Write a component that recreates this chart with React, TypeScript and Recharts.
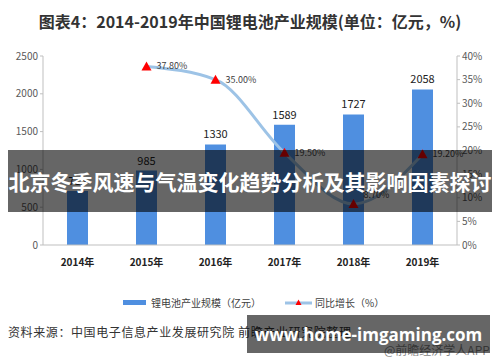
import {
  ComposedChart,
  Bar,
  Line,
  XAxis,
  YAxis,
  LabelList,
  Legend,
} from 'recharts';

const years = ['2014年', '2015年', '2016年', '2017年', '2018年', '2019年'];
const scale = [715, 985, 1330, 1589, 1727, 2058];
const growth = [null, 37.8, 35.0, 19.5, 8.7, 19.2];
const leftTicks = [0, 500, 1000, 1500, 2000, 2500];
const rightTicks = [0, 5, 10, 15, 20, 25, 30, 35, 40];

const data = years.map((year, i) => ({
  year,
  scale: scale[i],
  growth: growth[i],
}));

const FONT = '"Noto Sans CJK SC", "Noto Sans", sans-serif';
const BAR = '#4f8fe0';
const LINE = '#9dc3e6';

const Triangle = (props: any) => {
  const { cx, cy, value } = props;
  if (value == null || cx == null) return null;
  return (
    <path
      d={`M${cx},${cy - 5} L${cx + 5},${cy + 4} L${cx - 5},${cy + 4} Z`}
      fill="#ff0000"
    />
  );
};

const GrowthLabel = (props: any) => {
  const { x, y, value } = props;
  if (value == null) return null;
  const dy = value < 10 ? -9 : 0;
  return (
    <text
      x={x + 10}
      y={y + dy}
      dy={3}
      fontSize={9}
      fill="#404040"
      fontFamily={FONT}
    >
      {value.toFixed(2)}%
    </text>
  );
};

const LegendContent = () => (
  <div
    style={{
      display: 'flex',
      justifyContent: 'flex-start',
      alignItems: 'center',
      fontSize: 10,
      color: '#404040',
      fontFamily: FONT,
      paddingLeft: 123,
    }}
  >
    <span style={{ width: 23, height: 5, background: BAR, display: 'inline-block' }} />
    <span style={{ marginLeft: 5 }}>锂电池产业规模（亿元）</span>
    <svg width={27} height={10} style={{ marginLeft: 24 }}>
      <line x1={0} y1={5} x2={27} y2={5} stroke={LINE} strokeWidth={3} />
      <path d="M13.5,1.5 L16.5,7 L10.5,7 Z" fill="#ff0000" />
    </svg>
    <span style={{ marginLeft: 3 }}>同比增长（%）</span>
  </div>
);

export default function App() {
  return (
    <div
      style={{
        position: 'absolute',
        left: 0,
        top: 0,
        width: 500,
        height: 362,
        background: '#fff',
        fontFamily: FONT,
        overflow: 'hidden',
      }}
    >
      <div
        style={{
          position: 'absolute',
          top: 9,
          width: 500,
          textAlign: 'center',
          fontSize: 16,
          fontWeight: 'bold',
          color: '#333',
        }}
      >
        图表4：2014-2019年中国锂电池产业规模(单位：亿元，%)
      </div>

      <ComposedChart
        width={500}
        height={362}
        data={data}
        margin={{ top: 56, right: 0, bottom: 72, left: 0 }}
        barSize={21}
      >
        <XAxis
          dataKey="year"
          height={30}
          axisLine={{ stroke: '#bfbfbf' }}
          tickLine={false}
          tick={{ fontSize: 10, fontWeight: 'bold', fill: '#222', fontFamily: FONT }}
          tickMargin={8}
        />
        <YAxis
          yAxisId="left"
          width={43}
          domain={[0, 2500]}
          ticks={leftTicks}
          axisLine={{ stroke: '#bfbfbf' }}
          tickLine={{ stroke: '#bfbfbf' }}
          tickSize={3}
          tick={{ fontSize: 10, fill: '#595959', fontFamily: FONT }}
        />
        <YAxis
          yAxisId="right"
          orientation="right"
          width={43}
          domain={[0, 40]}
          ticks={rightTicks}
          tickFormatter={(v) => `${v}%`}
          axisLine={{ stroke: '#bfbfbf' }}
          tickLine={{ stroke: '#bfbfbf' }}
          tickSize={3}
          tick={{ fontSize: 10, fill: '#595959', fontFamily: FONT }}
        />
        <Bar yAxisId="left" dataKey="scale" fill={BAR} isAnimationActive={false}>
          <LabelList
            dataKey="scale"
            position="top"
            offset={6}
            style={{ fontSize: 11, fill: '#222', fontFamily: FONT }}
          />
        </Bar>
        <Line
          yAxisId="right"
          type="monotone"
          dataKey="growth"
          stroke={LINE}
          strokeWidth={3}
          dot={<Triangle />}
          activeDot={false}
          isAnimationActive={false}
        >
          <LabelList dataKey="growth" content={<GrowthLabel />} />
        </Line>
        <Legend
          content={<LegendContent />}
          wrapperStyle={{ position: 'absolute', top: 295, left: 0, width: 500 }}
        />
      </ComposedChart>

      <div
        style={{
          position: 'absolute',
          left: 8,
          top: 323,
          fontSize: 12,
          letterSpacing: 0.6,
          color: '#333',
          whiteSpace: 'nowrap',
        }}
      >
        资料来源：中国电子信息产业发展研究院 前瞻产业研究院整理
      </div>
      <div
        style={{
          position: 'absolute',
          left: 384,
          top: 341,
          fontSize: 12,
          color: '#888',
          whiteSpace: 'nowrap',
        }}
      >
        @前瞻经济学人APP
      </div>

      <div
        style={{
          position: 'absolute',
          left: 8,
          top: 150,
          width: 484,
          height: 62,
          background: 'rgba(0,0,0,0.6)',
          color: '#fff',
          fontSize: 21,
          fontWeight: 'bold',
          display: 'flex',
          alignItems: 'center',
          justifyContent: 'center',
          whiteSpace: 'nowrap',
        }}
      >
        北京冬季风速与气温变化趋势分析及其影响因素探讨
      </div>
      <div
        style={{
          position: 'absolute',
          left: 247,
          top: 315,
          width: 243,
          height: 38,
          background: 'rgba(0,0,0,0.6)',
          color: '#fff',
          fontSize: 17,
          fontWeight: 'bold',
          fontFamily: '"Open Sans", "Noto Sans", sans-serif',
          display: 'flex',
          alignItems: 'center',
          justifyContent: 'center',
          whiteSpace: 'nowrap',
        }}
      >
        www.home-imgaming.com
      </div>
    </div>
  );
}
